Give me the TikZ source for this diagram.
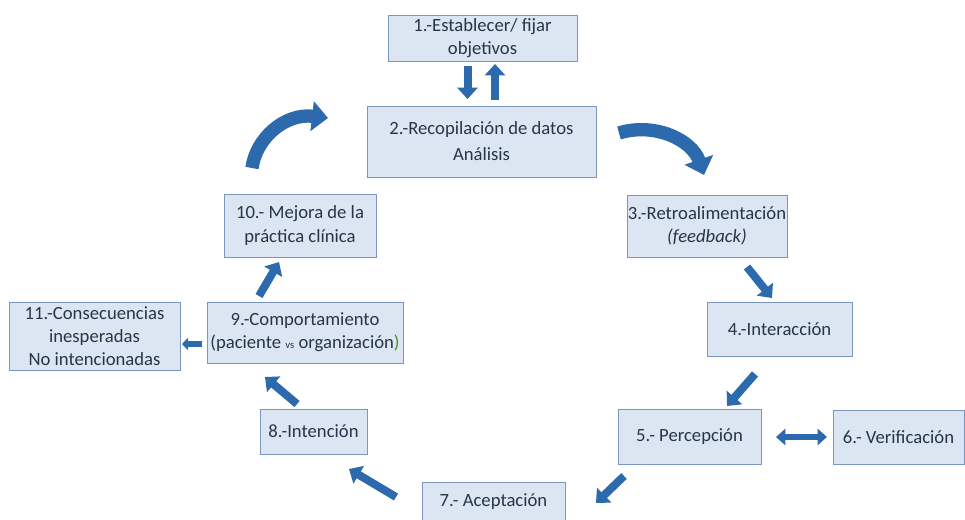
\documentclass[tikz,border=0pt]{standalone}
\usepackage{fontspec}
\setmainfont{Carlito}
\usepackage{xcolor}
\usepackage{tikz}
\usetikzlibrary{arrows.meta}
\definecolor{cajafondo}{HTML}{DCE6F2}
\definecolor{cajaborde}{HTML}{7A96BE}
\definecolor{flechaazul}{HTML}{2C6AAD}
\definecolor{textoazul}{HTML}{253648}
\definecolor{verdeparen}{HTML}{4E8A2E}

\begin{document}
\begin{tikzpicture}[x=0.75pt, y=-0.75pt,
    every node/.style={font=\fontsize{14}{17.5}\selectfont, text=textoazul},
    caja/.style 2 args={draw=cajaborde, fill=cajafondo, line width=0.7pt, align=center, inner sep=0pt,
        minimum width=#1*0.75pt, minimum height=#2*0.75pt},
    flecha/.style={draw=flechaazul, line width=6pt, -{Triangle[length=8.5pt,width=15pt]}},
    flechita/.style={draw=flechaazul, line width=4.5pt, -{Triangle[length=4.5pt,width=9pt]}},
    doble/.style={draw=flechaazul, line width=4.5pt, {Triangle[length=7pt,width=12pt]}-{Triangle[length=7pt,width=12pt]}},
    curva/.style={draw=flechaazul, line width=10pt, -{Triangle[length=12pt,width=22pt]}}]
                \path[use as bounding box, fill=white] (0,0) rectangle (965,519);
                % pasos del ciclo
                \node[caja={189}{46}] (p1) at (482.5,38) {1.-Establecer/ fijar\\objetivos};
                \node[caja={229}{71}] (p2) at (481.5,141.5) {2.-Recopilación de datos\\[2pt]Análisis};
                \node[caja={160}{62}] (p3) at (707,226) {3.-Retroalimentación\\\textit{(feedback)}};
                \node[caja={145}{54}] (p4) at (779.5,329) {4.-Interacción};
                \node[caja={143}{55}] (p5) at (689.5,436.5) {5.- Percepción};
                \node[caja={131}{54}] (p6) at (898.5,437) {6.- Verificación};
                \node[caja={143}{46}, text depth=7pt] (p7) at (493.5,505) {7.- Aceptación};
                \node[caja={107}{45}] (p8) at (313.5,431.5) {8.-Intención};
                \node[caja={196}{61}] (p9) at (305,332.5) {9.-Comportamiento\\(paciente {\footnotesize vs} organización\textcolor{verdeparen}{)}};
                \node[caja={152}{63}] (p10) at (300,225.5) {10.- Mejora de la\\práctica clínica};
                \node[caja={171}{68}] (p11) at (94.5,336) {11.-Consecuencias\\inesperadas\\No intencionadas};
                % extremos de las flechas
                \coordinate (a12) at (467.5,66);  \coordinate (b12) at (467.5,99);
                \coordinate (a21) at (495,100);   \coordinate (b21) at (495,64);
                \coordinate (a34) at (747,267);   \coordinate (b34) at (772,298);
                \coordinate (a45) at (755,374);   \coordinate (b45) at (727,406);
                \coordinate (a57) at (624,476);   \coordinate (b57) at (596,503);
                \coordinate (a78) at (396,497);   \coordinate (b78) at (349,469);
                \coordinate (a89) at (297,404);   \coordinate (b89) at (265,377);
                \coordinate (a910) at (259,296);  \coordinate (b910) at (279,262);
                \foreach \a/\b in {a12/b12,a21/b21,a34/b34,a45/b45,a57/b57,a78/b78,a89/b89,a910/b910}
                \draw[flecha] (\a) -- (\b);
                \coordinate (a911) at (202,344);  \coordinate (b911) at (182,344);
                \draw[flechita] (a911) -- (b911);
                \coordinate (a56) at (776,437);   \coordinate (b56) at (827,437);
                \draw[doble] (a56) -- (b56);
                % flechas curvas
                \coordinate (c1) at (252,168);    \coordinate (c2) at (328,118);
                \draw[curva] (c1) .. controls (256,138) and (285,113) .. (c2);
                \coordinate (c3) at (619,133);    \coordinate (c4) at (704,175);
                \draw[curva] (c3) .. controls (655,122) and (692,140) .. (c4);
            \end{tikzpicture}
\end{document}
